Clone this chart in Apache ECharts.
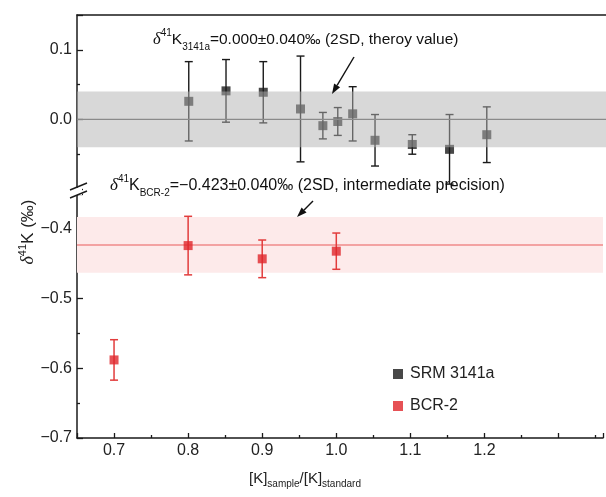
<!DOCTYPE html>
<html><head><meta charset="utf-8">
<script src="https://cdn.jsdelivr.net/npm/echarts@6/dist/echarts.min.js"></script>
<style>html,body{margin:0;padding:0;background:#fff}#c{width:606px;height:497px}</style>
</head><body><div id="c"></div>
<script>
// ---- data ----
const srmX   = [0.80, 0.85, 0.90, 0.95, 0.98, 1.00, 1.02, 1.05, 1.10, 1.15, 1.20];
const srmY   = [0.026, 0.041, 0.039, 0.015, -0.009, -0.003, 0.008, -0.030, -0.036, -0.043, -0.022];
const srmErr = [0.057, 0.045, 0.044, 0.076, 0.019, 0.020, 0.039, 0.037, 0.014, 0.050, 0.040];
const bcrX   = [0.70, 0.80, 0.90, 1.00];
const bcrY   = [-0.588, -0.424, -0.443, -0.432];
const bcrErr = [0.029, 0.042, 0.027, 0.026];
const srmRef = 0.000, srmRefSD = 0.040;
const bcrRef = -0.423, bcrRefSD = 0.040;
const seriesNames = ['SRM 3141a', 'BCR-2'];
const xTickLabels = ['0.7', '0.8', '0.9', '1.0', '1.1', '1.2'];
const yUpperLabels = ['0.0', '0.1'];
const yLowerLabels = ['\u22120.7', '\u22120.6', '\u22120.5', '\u22120.4'];

const FONT = 'Liberation Sans, Arial, sans-serif';
const BLACK = '#1a1a1a', RED = '#e0262a';

function errRender(color, capW, lw) {
  return function (params, api) {
    const x = api.value(0), lo = api.value(1), hi = api.value(2);
    const a = api.coord([x, hi]), b = api.coord([x, lo]);
    const h = capW / 2;
    const st = { stroke: color, lineWidth: lw };
    return { type: 'group', children: [
      { type: 'line', shape: { x1: a[0], y1: a[1], x2: b[0], y2: b[1] }, style: st },
      { type: 'line', shape: { x1: a[0] - h, y1: a[1], x2: a[0] + h, y2: a[1] }, style: st },
      { type: 'line', shape: { x1: b[0] - h, y1: b[1], x2: b[0] + h, y2: b[1] }, style: st }
    ]};
  };
}
function bandRender(fill, lineColor, lw) {
  return function (params, api) {
    const cs = params.coordSys;
    const lo = api.coord([1, api.value(1)])[1];
    const hi = api.coord([1, api.value(2)])[1];
    const mid = api.coord([1, api.value(3)])[1];
    return { type: 'group', children: [
      { type: 'rect', shape: { x: cs.x, y: hi, width: cs.width, height: lo - hi }, style: { fill: fill } },
      { type: 'line', shape: { x1: cs.x, y1: mid, x2: cs.x + cs.width, y2: mid }, style: { stroke: lineColor, lineWidth: lw } }
    ]};
  };
}
function fmtFrom(list) {
  return function (v) {
    const s = v.toFixed(1).replace('-', '\u2212');
    return (Math.abs(v * 10 - Math.round(v * 10)) < 1e-6 && list.indexOf(s) >= 0) ? s : '';
  };
}
function arrow(x1, y1, x2, y2) {
  const ang = Math.atan2(y2 - y1, x2 - x1), L = 10, W = 3.5;
  const bx = x2 - L * Math.cos(ang), by = y2 - L * Math.sin(ang);
  const px = -Math.sin(ang) * W, py = Math.cos(ang) * W;
  return [
    { type: 'line', shape: { x1: x1, y1: y1, x2: bx, y2: by }, style: { stroke: '#111', lineWidth: 1.4 } },
    { type: 'polygon', shape: { points: [[x2, y2], [bx + px, by + py], [bx - px, by - py]] }, style: { fill: '#111' } }
  ];
}
function richSet(fs) {
  return {
    d: { fontFamily: 'Liberation Serif, Times New Roman, serif', fontStyle: 'italic', fontSize: fs + 1, lineHeight: 24, verticalAlign: 'middle', fill: '#111' },
    m: { fontFamily: FONT, fontSize: fs, lineHeight: 24, verticalAlign: 'middle', fill: '#111' },
    sup: { fontFamily: FONT, fontSize: 10, lineHeight: 10, verticalAlign: 'top', fill: '#111' },
    sub: { fontFamily: FONT, fontSize: 10, lineHeight: 10, verticalAlign: 'bottom', fill: '#111' }
  };
}

const xCommon = { type: 'value', min: 0.65, max: 1.36, splitNumber: 7, splitLine: { show: false } };
const yTick = { show: true, inside: true, length: 6, lineStyle: { color: BLACK, width: 1.3 } };
const yMinor = { show: true, splitNumber: 2, length: 3, lineStyle: { color: BLACK, width: 1.3 } };

const chart = echarts.init(document.getElementById('c'), null, { renderer: 'canvas' });
chart.setOption({
  animation: false,
  backgroundColor: '#fff',
  grid: [
    { left: 77, right: -7, top: 15, height: 174 },
    { left: 77, right: -7, top: 194, height: 244 }
  ],
  xAxis: [
    Object.assign({}, xCommon, { gridIndex: 0, position: 'top',
      axisLine: { show: true, onZero: false, lineStyle: { color: BLACK, width: 1.5 } },
      axisTick: { show: false }, axisLabel: { show: false } }),
    Object.assign({}, xCommon, { gridIndex: 1, position: 'bottom',
      axisLine: { show: true, onZero: false, lineStyle: { color: BLACK, width: 1.5 } },
      axisTick: { show: true, inside: true, length: 5, lineStyle: { color: BLACK, width: 1.3 } },
      minorTick: { show: true, splitNumber: 2, length: 3, lineStyle: { color: BLACK, width: 1.3 } },
      axisLabel: { formatter: fmtFrom(xTickLabels), fontFamily: FONT, fontSize: 16, color: '#222', margin: 5 } })
  ],
  yAxis: [
    { type: 'value', gridIndex: 0, min: -0.1, max: 0.15, interval: 0.1, splitLine: { show: false },
      axisLine: { show: true, onZero: false, lineStyle: { color: BLACK, width: 1.5 } },
      axisTick: yTick, minorTick: yMinor,
      axisLabel: { formatter: fmtFrom(yUpperLabels), fontFamily: FONT, fontSize: 16, color: '#222', margin: 5 } },
    { type: 'value', gridIndex: 1, min: -0.7, max: -0.35, interval: 0.1, splitLine: { show: false },
      axisLine: { show: true, onZero: false, lineStyle: { color: BLACK, width: 1.5 } },
      axisTick: yTick, minorTick: yMinor,
      axisLabel: { formatter: fmtFrom(yLowerLabels), fontFamily: FONT, fontSize: 16, color: '#222', margin: 5 } }
  ],
  legend: {
    orient: 'vertical', left: 388, top: 361, itemWidth: 10, itemHeight: 10, itemGap: 16,
    icon: 'rect', data: seriesNames,
    textStyle: { fontFamily: FONT, fontSize: 16, color: '#222', padding: [0, 0, 0, 2] }
  },
  series: [
    { type: 'custom', name: 'srmErr', xAxisIndex: 0, yAxisIndex: 0, z: 2, silent: true, clip: true,
      renderItem: errRender(BLACK, 8, 1.4), encode: { x: 0, y: [1, 2] },
      data: srmX.map((x, i) => [x, srmY[i] - srmErr[i], srmY[i] + srmErr[i]]) },
    { type: 'scatter', name: seriesNames[0], xAxisIndex: 0, yAxisIndex: 0, z: 3,
      symbol: 'rect', symbolSize: 9, itemStyle: { color: BLACK },
      data: srmX.map((x, i) => [x, srmY[i]]) },
    { type: 'custom', name: 'srmBand', xAxisIndex: 0, yAxisIndex: 0, z: 10, silent: true,
      renderItem: bandRender('rgba(178,178,178,0.5)', '#8a8a8a', 1.3), encode: { x: 0, y: [1, 2] },
      data: [[1, srmRef - srmRefSD, srmRef + srmRefSD, srmRef]] },
    { type: 'custom', name: 'bcrBand', xAxisIndex: 1, yAxisIndex: 1, z: 1, silent: true,
      renderItem: bandRender('#fdeaea', '#ef8a8a', 1.5), encode: { x: 0, y: [1, 2] },
      data: [[1, bcrRef - bcrRefSD, bcrRef + bcrRefSD, bcrRef]] },
    { type: 'custom', name: 'bcrErr', xAxisIndex: 1, yAxisIndex: 1, z: 2, silent: true,
      renderItem: errRender('#e23c3c', 8, 1.5), encode: { x: 0, y: [1, 2] },
      data: bcrX.map((x, i) => [x, bcrY[i] - bcrErr[i], bcrY[i] + bcrErr[i]]) },
    { type: 'scatter', name: seriesNames[1], xAxisIndex: 1, yAxisIndex: 1, z: 3,
      symbol: 'rect', symbolSize: 9, itemStyle: { color: RED },
      data: bcrX.map((x, i) => [x, bcrY[i]]) }
  ],
  graphic: [
    // axis break marks
    { type: 'rect', shape: { x: 74, y: 188, width: 8, height: 7 }, style: { fill: '#fff' }, z: 50 },
    { type: 'line', shape: { x1: 70, y1: 190, x2: 87, y2: 183 }, style: { stroke: BLACK, lineWidth: 1.4 }, z: 51 },
    { type: 'line', shape: { x1: 70, y1: 198, x2: 87, y2: 191 }, style: { stroke: BLACK, lineWidth: 1.4 }, z: 51 },
    // annotation texts
    { type: 'text', x: 153, y: 40, z: 60, style: {
      text: '{d|\u03b4}{sup|41}{m|K}{sub|3141a}{m|=0.000\u00b10.040\u2030 (2SD, theroy value)}',
      rich: richSet(15.5), verticalAlign: 'middle' } },
    { type: 'text', x: 110, y: 186, z: 60, style: {
      text: '{d|\u03b4}{sup|41}{m|K}{sub|BCR-2}{m|=\u22120.423\u00b10.040\u2030 (2SD, intermediate precision)}',
      rich: richSet(16), verticalAlign: 'middle' } },
    ...arrow(354, 57, 332, 94).map(e => Object.assign(e, { z: 60 })),
    ...arrow(313, 201, 297, 217).map(e => Object.assign(e, { z: 60 })),
    // axis titles
    { type: 'text', x: 305, y: 479, z: 60, style: {
      text: '{m|[K]}{sub|sample}{m|/[K]}{sub|standard}', rich: {
        m: { fontFamily: FONT, fontSize: 15, lineHeight: 20, verticalAlign: 'middle', fill: '#222' },
        sub: { fontFamily: FONT, fontSize: 10, lineHeight: 10, verticalAlign: 'bottom', fill: '#222' } },
      align: 'center', verticalAlign: 'middle' } },
    { type: 'text', x: 28, y: 232, rotation: Math.PI / 2, z: 60, style: {
      text: '{d|\u03b4}{sup|41}{m|K (\u2030)}', rich: {
        d: { fontFamily: 'Liberation Serif, serif', fontStyle: 'italic', fontSize: 18, lineHeight: 22, verticalAlign: 'middle', fill: '#222' },
        m: { fontFamily: FONT, fontSize: 17, lineHeight: 22, verticalAlign: 'middle', fill: '#222' },
        sup: { fontFamily: FONT, fontSize: 11, lineHeight: 11, verticalAlign: 'top', fill: '#222' } },
      align: 'center', verticalAlign: 'middle' } }
  ]
});
</script></body></html>
